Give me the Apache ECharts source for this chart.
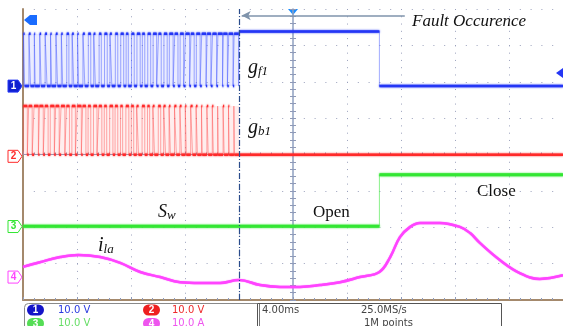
<!DOCTYPE html>
<html>
<head>
<meta charset="utf-8">
<script src="https://cdn.jsdelivr.net/npm/echarts@6/dist/echarts.min.js"></script>
<style>
  html, body { margin: 0; padding: 0; background: #fff; }
  #scope { width: 563px; height: 326px; }
</style>
</head>
<body>
<div id="scope"></div>
<script>
// time in screen divisions (0..10), amplitude in divisions (0..8 from bottom)
var faultTime = 4.0;
var switchTime = 6.6;
var pwmPeriod = 0.1;

var gf1Levels = [5.88, 7.32];     // low, high while switching
var gf1Stuck = 7.38;              // stuck high after fault
var gb1Levels = [3.99, 5.33];
var swLevels = [2.03, 3.44];      // open, close
var chOffsets = [5.88, 3.95, 2.02, 0.63];

// duty of each pwm period
var gf1Duty = [0.2, 0.3, 0.15, 0.25, 0.35, 0.2, 0.3, 0.25, 0.4, 0.3, 0.2, 0.35, 0.45, 0.3, 0.4, 0.5,
  0.35, 0.45, 0.55, 0.4, 0.5, 0.6, 0.45, 0.55, 0.65, 0.5, 0.6, 0.7, 0.6, 0.65, 0.75, 0.6,
  0.7, 0.8, 0.7, 0.75, 0.85, 0.75, 0.8, 0.85];
var gb1Duty = [0.75, 0.65, 0.8, 0.7, 0.6, 0.75, 0.65, 0.7, 0.55, 0.65, 0.75, 0.6, 0.5, 0.65, 0.55, 0.45,
  0.6, 0.5, 0.4, 0.55, 0.45, 0.35, 0.5, 0.4, 0.3, 0.45, 0.35, 0.25, 0.35, 0.3, 0.2, 0.35,
  0.25, 0.15, 0.25, 0.2, 0.1, 0.2, 0.15, 0.1];

// load current i_la
var ilaTime = [0, 0.31, 0.69, 1.02, 1.43, 1.8, 2.17, 2.54, 2.91, 3.28, 3.65, 4.0, 4.39, 4.76, 5.13, 5.5,
  5.87, 6.24, 6.6, 6.8, 6.98, 7.17, 7.35, 7.72, 8.09, 8.28, 8.46, 8.83, 9.2, 9.57, 10];
var ilaValue = [0.91, 1.04, 1.18, 1.24, 1.18, 1.02, 0.77, 0.63, 0.49, 0.47, 0.47, 0.55, 0.41, 0.36, 0.36, 0.41,
  0.49, 0.63, 0.77, 1.18, 1.73, 2.01, 2.12, 2.12, 2.01, 1.84, 1.57, 1.1, 0.74, 0.58, 0.68];

var chColors = ['#2436f5', '#ff2a2a', '#33e633', '#ff44ff'];

// build step trace (all edges) and the flat parts (for thick bands)
function pwmTrace (duty, lv, shift) {
  var full = [[0, lv[0]]], flats = [], prevEnd = 0;
  duty.forEach(function (d, i) {
    var t0 = (i + shift) * pwmPeriod, t1 = t0 + d * pwmPeriod;
    full.push([t0, lv[0]], [t0, lv[1]], [t1, lv[1]], [t1, lv[0]]);
    flats.push([prevEnd, lv[0]], [t0, lv[0]], null, [t0, lv[1]], [t1, lv[1]], null);
    prevEnd = t1;
  });
  full.push([faultTime, lv[0]]);
  flats.push([prevEnd, lv[0]], [faultTime, lv[0]], null);
  return { full: full, flats: flats };
}

var gf1 = pwmTrace(gf1Duty, gf1Levels, 0.1);
gf1.full.push([faultTime, gf1Stuck], [switchTime, gf1Stuck], [switchTime, gf1Levels[0]], [10, gf1Levels[0]]);
gf1.flats.push([faultTime, gf1Stuck], [switchTime, gf1Stuck], null, [switchTime, gf1Levels[0]], [10, gf1Levels[0]]);

var gb1 = pwmTrace(gb1Duty, gb1Levels, 0.05);
gb1.full.push([10, gb1Levels[0]]);
gb1.flats.push([faultTime, gb1Levels[0]], [10, gb1Levels[0]]);

var swFull = [[0, swLevels[0]], [switchTime, swLevels[0]], [switchTime, swLevels[1]], [10, swLevels[1]]];
var swFlats = [[0, swLevels[0]], [switchTime, swLevels[0]], null, [switchTime, swLevels[1]], [10, swLevels[1]]];

var ilaData = ilaTime.map(function (t, i) { return [t, ilaValue[i]]; });

var chart = echarts.init(document.getElementById('scope'));

function thin (data, color) {
  return { type: 'line', data: data, symbol: 'none', silent: true, animation: false,
    lineStyle: { width: 1, color: color } };
}
function thick (data, color, w) {
  return { type: 'line', data: data, symbol: 'none', silent: true, animation: false, connectNulls: false,
    lineStyle: { width: w || 3, color: color, shadowBlur: 2, shadowColor: color } };
}

var dotX = { color: '#9aa0bc', width: 1, type: [1, 6.275] };
var dotY = { color: '#9aa0bc', width: 1, type: [1, 9.8] };
var noLabel = { show: false };

var option = {
  backgroundColor: '#fff',
  animation: false,
  grid: { left: 23, right: 0, top: 9, bottom: 26 },
  xAxis: [
    { type: 'value', min: 0, max: 10, interval: 1, position: 'bottom',
      axisLine: { show: true, lineStyle: { color: '#c9bcae', width: 1 } },
      axisTick: { show: true, inside: true, length: 3, lineStyle: { color: '#8f9ab8' } },
      minorTick: { show: true, splitNumber: 5, length: 2, lineStyle: { color: '#8f9ab8' } },
      splitLine: { show: true, lineStyle: dotX }, axisLabel: noLabel },
    { type: 'value', min: 0, max: 10, interval: 1, position: 'bottom', offset: -145.5,
      axisLine: { show: true, lineStyle: { color: '#8fa0c0', width: 1 } },
      axisTick: { show: true, inside: true, length: 3, lineStyle: { color: '#8f9ab8' } },
      minorTick: { show: true, splitNumber: 5, length: 2, lineStyle: { color: '#8f9ab8' } },
      splitLine: { show: false }, axisLabel: noLabel },
    { type: 'value', min: 0, max: 10, position: 'top',
      axisLine: { show: true, lineStyle: { color: '#a4896c', width: 2 } },
      axisTick: { show: false }, splitLine: { show: false }, axisLabel: noLabel }
  ],
  yAxis: [
    { type: 'value', min: 0, max: 8, interval: 1, position: 'left',
      axisLine: { show: true, lineStyle: { color: '#a4896c', width: 2 } },
      axisTick: { show: false }, splitLine: { show: true, lineStyle: dotY }, axisLabel: noLabel },
    { type: 'value', min: 0, max: 8, interval: 1, position: 'left', offset: -270,
      axisLine: { show: true, lineStyle: { color: '#8fa0c0', width: 1.5 } },
      axisTick: { show: true, inside: true, length: 3, lineStyle: { color: '#8f9ab8' } },
      minorTick: { show: true, splitNumber: 5, length: 3, lineStyle: { color: '#8f9ab8' } },
      splitLine: { show: false }, axisLabel: noLabel },
    { type: 'value', min: 0, max: 8, interval: 1, position: 'right', offset: -270,
      axisLine: { show: false },
      axisTick: { show: true, inside: true, length: 3, lineStyle: { color: '#8f9ab8' } },
      minorTick: { show: true, splitNumber: 5, length: 3, lineStyle: { color: '#8f9ab8' } },
      splitLine: { show: false }, axisLabel: noLabel }
  ],
  series: [
    Object.assign(thin(gf1.full, 'rgba(70,90,255,0.5)'), {
      markArea: { silent: true, itemStyle: { color: 'rgba(80,100,255,0.12)' },
        data: [[{ coord: [0, gf1Levels[0]] }, { coord: [faultTime, gf1Levels[1]] }]] }
    }),
    thick(gf1.flats, chColors[0], 2.5),
    Object.assign(thin(gb1.full, 'rgba(255,70,70,0.45)'), {
      markArea: { silent: true, itemStyle: { color: 'rgba(255,90,90,0.1)' },
        data: [[{ coord: [0, gb1Levels[0]] }, { coord: [faultTime, gb1Levels[1]] }]] }
    }),
    thick(gb1.flats, chColors[1], 2.5),
    thin(swFull, 'rgba(60,230,60,0.6)'),
    thick(swFlats, chColors[2]),
    { type: 'line', data: ilaData, smooth: 0.4, symbol: 'none', silent: true,
      lineStyle: { width: 2.5, color: chColors[3], shadowBlur: 1, shadowColor: chColors[3] } },
    // fault instant marker
    { type: 'line', data: [], silent: true,
      markLine: { silent: true, symbol: 'none', label: { show: false },
        lineStyle: { color: '#2a4c8c', width: 1.2, type: [6, 2, 1, 2] },
        data: [{ xAxis: faultTime }] } },
    // arrow pointing to fault instant
    { type: 'line', data: [], silent: true,
      markLine: { silent: true, symbol: ['arrow', 'none'], symbolSize: [7, 9], label: { show: false },
        lineStyle: { color: '#7f93ab', width: 1.5, type: 'solid' },
        itemStyle: { color: '#1f3f80' },
        data: [[{ coord: [faultTime + 0.05, 7.82] }, { coord: [7.07, 7.82] }]] } }
  ]
};
chart.setOption(option);

function tag (i) {
  var y = chart.convertToPixel({ gridIndex: 0 }, [0, chOffsets[i]])[1];
  var filled = i === 0;
  return {
    type: 'group', x: 8, y: y, silent: true,
    children: [
      { type: 'polygon', shape: { points: [[0, -6], [10, -6], [14, 0], [10, 6], [0, 6]] },
        style: { fill: filled ? '#1020d0' : '#fff', stroke: chColors[i], lineWidth: 1 } },
      { type: 'text', x: 5.5, y: 0, style: { text: String(i + 1), fill: filled ? '#fff' : chColors[i],
        font: 'bold 10px "Liberation Sans"', align: 'center', verticalAlign: 'middle' } }
    ]
  };
}

var serif = '"Liberation Serif", "DejaVu Serif", serif';
function badge (x, y, n, color) {
  return { type: 'group', x: x, y: y, silent: true, children: [
    { type: 'rect', shape: { x: 0, y: 0, width: 17, height: 11, r: 5.5 }, style: { fill: color } },
    { type: 'text', x: 8.5, y: 5.8, style: { text: n, fill: '#fff', font: 'bold 10px "Liberation Sans"',
      align: 'center', verticalAlign: 'middle' } }
  ] };
}
function small (x, y, s, color) {
  return { type: 'text', x: x, y: y, silent: true,
    style: { text: s, fill: color, font: '10px "DejaVu Sans"', verticalAlign: 'middle' } };
}

var trigX = chart.convertToPixel({ gridIndex: 0 }, [5, 0])[0];
var graphics = [0, 1, 2, 3].map(tag).concat([
  { type: 'polygon', silent: true, shape: { points: [[trigX - 5, 9], [trigX + 5, 9], [trigX, 15]] },
    style: { fill: '#1a8cff' } },
  { type: 'polygon', silent: true, shape: { points: [[24, 20], [30, 15], [37, 15], [37, 25], [30, 25]] },
    style: { fill: '#1a6cff' } },
  { type: 'polygon', silent: true, shape: { points: [[556, 73], [563, 68], [563, 78]] },
    style: { fill: '#2436f5' } },
  // annotations
  { type: 'text', x: 412, y: 22, silent: true,
    style: { text: 'Fault Occurence', font: 'italic 17px ' + serif, fill: '#111', verticalAlign: 'middle' } },
  { type: 'text', x: 248, y: 68, silent: true,
    style: { text: '{g|g}{s|f1}', verticalAlign: 'middle',
      rich: { g: { font: 'italic 20px ' + serif, fill: '#111' },
        s: { font: 'italic 13px ' + serif, fill: '#111', padding: [8, 0, 0, 0] } } } },
  { type: 'text', x: 248, y: 128, silent: true,
    style: { text: '{g|g}{s|b1}', verticalAlign: 'middle',
      rich: { g: { font: 'italic 20px ' + serif, fill: '#111' },
        s: { font: 'italic 13px ' + serif, fill: '#111', padding: [8, 0, 0, 0] } } } },
  { type: 'text', x: 158, y: 212, silent: true,
    style: { text: '{g|S}{s|w}', verticalAlign: 'middle',
      rich: { g: { font: 'italic 18px ' + serif, fill: '#111' },
        s: { font: 'italic 13px ' + serif, fill: '#111', padding: [8, 0, 0, 0] } } } },
  { type: 'text', x: 98, y: 246, silent: true,
    style: { text: '{g|i}{s|la}', verticalAlign: 'middle',
      rich: { g: { font: 'italic 20px ' + serif, fill: '#111' },
        s: { font: 'italic 13px ' + serif, fill: '#111', padding: [8, 0, 0, 0] } } } },
  { type: 'text', x: 313, y: 213, silent: true,
    style: { text: 'Open', font: '17px ' + serif, fill: '#111', verticalAlign: 'middle' } },
  { type: 'text', x: 477, y: 192, silent: true,
    style: { text: 'Close', font: '17px ' + serif, fill: '#111', verticalAlign: 'middle' } },
  // status bar
  { type: 'rect', silent: true, shape: { x: 24.5, y: 303.5, width: 233, height: 30, r: [4, 0, 0, 0] },
    style: { fill: '#fff', stroke: '#8a8a8a', lineWidth: 1 } },
  { type: 'rect', silent: true, shape: { x: 257.5, y: 303.5, width: 244, height: 30 },
    style: { fill: '#fff', stroke: '#555', lineWidth: 1 } },
  { type: 'line', silent: true, shape: { x1: 259.5, y1: 304, x2: 259.5, y2: 326 },
    style: { stroke: '#777', lineWidth: 1 } },
  badge(27, 304.5, '1', '#1414c8'),
  badge(143, 304.5, '2', '#ee2020'),
  badge(27, 318, '3', '#55dd55'),
  badge(143, 318, '4', '#ee55ee'),
  small(58, 310.5, '10.0 V', '#2a3ae0'),
  small(172, 310.5, '10.0 V', '#ee2a2a'),
  small(58, 323.5, '10.0 V', '#66dd66'),
  small(172, 323.5, '10.0 A', '#ee55ee'),
  small(262, 310.5, '4.00ms', '#444'),
  small(361, 310.5, '25.0MS/s', '#444'),
  small(364, 323.5, '1M points', '#444')
]);
chart.setOption({ graphic: graphics });
</script>
</body>
</html>
